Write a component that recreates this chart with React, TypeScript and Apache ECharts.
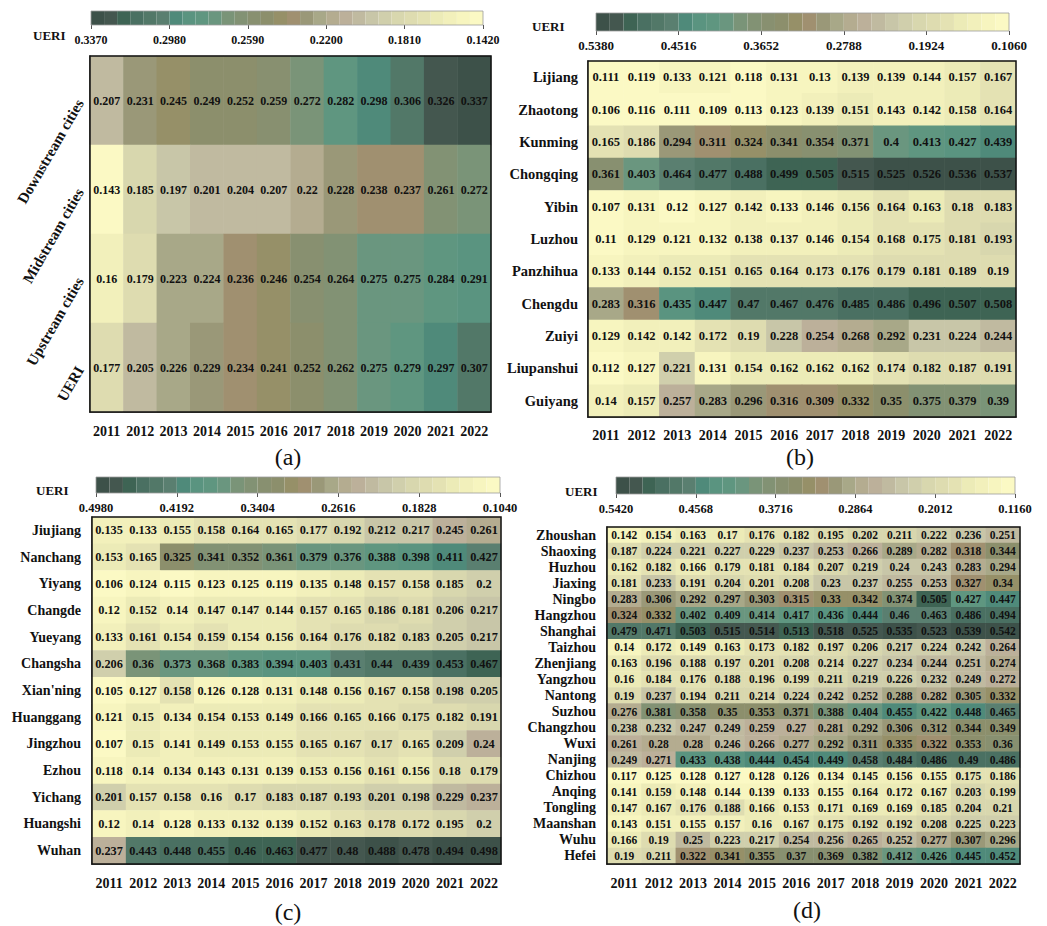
import React, { useEffect, useRef } from 'react';
import * as echarts from 'echarts';

const years = ['2011', '2012', '2013', '2014', '2015', '2016', '2017', '2018', '2019', '2020', '2021', '2022'];

// (a)
const regionsA = ['Downstream cities', 'Midstream cities', 'Upstream cities', 'UERI'];
const valuesA = [
  [0.207, 0.231, 0.245, 0.249, 0.252, 0.259, 0.272, 0.282, 0.298, 0.306, 0.326, 0.337],
  [0.143, 0.185, 0.197, 0.201, 0.204, 0.207, 0.22, 0.228, 0.238, 0.237, 0.261, 0.272],
  [0.16, 0.179, 0.223, 0.224, 0.236, 0.246, 0.254, 0.264, 0.275, 0.275, 0.284, 0.291],
  [0.177, 0.205, 0.226, 0.229, 0.234, 0.241, 0.252, 0.262, 0.275, 0.279, 0.297, 0.307],
];
const ticksA = [0.337, 0.298, 0.259, 0.22, 0.181, 0.142];

// (b)
const citiesB = ['Lijiang', 'Zhaotong', 'Kunming', 'Chongqing', 'Yibin', 'Luzhou', 'Panzhihua', 'Chengdu', 'Zuiyi', 'Liupanshui', 'Guiyang'];
const valuesB = [
  [0.111, 0.119, 0.133, 0.121, 0.118, 0.131, 0.13, 0.139, 0.139, 0.144, 0.157, 0.167],
  [0.106, 0.116, 0.111, 0.109, 0.113, 0.123, 0.139, 0.151, 0.143, 0.142, 0.158, 0.164],
  [0.165, 0.186, 0.294, 0.311, 0.324, 0.341, 0.354, 0.371, 0.4, 0.413, 0.427, 0.439],
  [0.361, 0.403, 0.464, 0.477, 0.488, 0.499, 0.505, 0.515, 0.525, 0.526, 0.536, 0.537],
  [0.107, 0.131, 0.12, 0.127, 0.142, 0.133, 0.146, 0.156, 0.164, 0.163, 0.18, 0.183],
  [0.11, 0.129, 0.121, 0.132, 0.138, 0.137, 0.146, 0.154, 0.168, 0.175, 0.181, 0.193],
  [0.133, 0.144, 0.152, 0.151, 0.165, 0.164, 0.173, 0.176, 0.179, 0.181, 0.189, 0.19],
  [0.283, 0.316, 0.435, 0.447, 0.47, 0.467, 0.476, 0.485, 0.486, 0.496, 0.507, 0.508],
  [0.129, 0.142, 0.142, 0.172, 0.19, 0.228, 0.254, 0.268, 0.292, 0.231, 0.224, 0.244],
  [0.112, 0.127, 0.221, 0.131, 0.154, 0.162, 0.162, 0.162, 0.174, 0.182, 0.187, 0.191],
  [0.14, 0.157, 0.257, 0.283, 0.296, 0.316, 0.309, 0.332, 0.35, 0.375, 0.379, 0.39],
];
const ticksB = [0.538, 0.4516, 0.3652, 0.2788, 0.1924, 0.106];

// (c)
const citiesC = ['Jiujiang', 'Nanchang', 'Yiyang', 'Changde', 'Yueyang', 'Changsha', "Xian'ning", 'Huanggang', 'Jingzhou', 'Ezhou', 'Yichang', 'Huangshi', 'Wuhan'];
const valuesC = [
  [0.135, 0.133, 0.155, 0.158, 0.164, 0.165, 0.177, 0.192, 0.212, 0.217, 0.245, 0.261],
  [0.153, 0.165, 0.325, 0.341, 0.352, 0.361, 0.379, 0.376, 0.388, 0.398, 0.411, 0.427],
  [0.106, 0.124, 0.115, 0.123, 0.125, 0.119, 0.135, 0.148, 0.157, 0.158, 0.185, 0.2],
  [0.12, 0.152, 0.14, 0.147, 0.147, 0.144, 0.157, 0.165, 0.186, 0.181, 0.206, 0.217],
  [0.133, 0.161, 0.154, 0.159, 0.154, 0.156, 0.164, 0.176, 0.182, 0.183, 0.205, 0.217],
  [0.206, 0.36, 0.373, 0.368, 0.383, 0.394, 0.403, 0.431, 0.44, 0.439, 0.453, 0.467],
  [0.105, 0.127, 0.158, 0.126, 0.128, 0.131, 0.148, 0.156, 0.167, 0.158, 0.198, 0.205],
  [0.121, 0.15, 0.134, 0.154, 0.153, 0.149, 0.166, 0.165, 0.166, 0.175, 0.182, 0.191],
  [0.107, 0.15, 0.141, 0.149, 0.153, 0.155, 0.165, 0.167, 0.17, 0.165, 0.209, 0.24],
  [0.118, 0.14, 0.134, 0.143, 0.131, 0.139, 0.153, 0.156, 0.161, 0.156, 0.18, 0.179],
  [0.201, 0.157, 0.158, 0.16, 0.17, 0.183, 0.187, 0.193, 0.201, 0.198, 0.229, 0.237],
  [0.12, 0.14, 0.128, 0.133, 0.132, 0.139, 0.152, 0.163, 0.178, 0.172, 0.195, 0.2],
  [0.237, 0.443, 0.448, 0.455, 0.46, 0.463, 0.477, 0.48, 0.488, 0.478, 0.494, 0.498],
];
const ticksC = [0.498, 0.4192, 0.3404, 0.2616, 0.1828, 0.104];

// (d)
const citiesD = ['Zhoushan', 'Shaoxing', 'Huzhou', 'Jiaxing', 'Ningbo', 'Hangzhou', 'Shanghai', 'Taizhou', 'Zhenjiang', 'Yangzhou', 'Nantong', 'Suzhou', 'Changzhou', 'Wuxi', 'Nanjing', 'Chizhou', 'Anqing', 'Tongling', 'Maanshan', 'Wuhu', 'Hefei'];
const valuesD = [
  [0.142, 0.154, 0.163, 0.17, 0.176, 0.182, 0.195, 0.202, 0.211, 0.222, 0.236, 0.251],
  [0.187, 0.224, 0.221, 0.227, 0.229, 0.237, 0.253, 0.266, 0.289, 0.282, 0.318, 0.344],
  [0.162, 0.182, 0.166, 0.179, 0.181, 0.184, 0.207, 0.219, 0.24, 0.243, 0.283, 0.294],
  [0.181, 0.233, 0.191, 0.204, 0.201, 0.208, 0.23, 0.237, 0.255, 0.253, 0.327, 0.34],
  [0.283, 0.306, 0.292, 0.297, 0.303, 0.315, 0.33, 0.342, 0.374, 0.505, 0.427, 0.447],
  [0.324, 0.332, 0.402, 0.409, 0.414, 0.417, 0.436, 0.444, 0.46, 0.463, 0.486, 0.494],
  [0.479, 0.471, 0.503, 0.515, 0.514, 0.513, 0.518, 0.525, 0.535, 0.523, 0.539, 0.542],
  [0.14, 0.172, 0.149, 0.163, 0.173, 0.182, 0.197, 0.206, 0.217, 0.224, 0.242, 0.264],
  [0.163, 0.196, 0.188, 0.197, 0.201, 0.208, 0.214, 0.227, 0.234, 0.244, 0.251, 0.274],
  [0.16, 0.184, 0.176, 0.188, 0.196, 0.199, 0.211, 0.219, 0.226, 0.232, 0.249, 0.272],
  [0.19, 0.237, 0.194, 0.211, 0.214, 0.224, 0.242, 0.252, 0.288, 0.282, 0.305, 0.332],
  [0.276, 0.381, 0.358, 0.35, 0.353, 0.371, 0.388, 0.404, 0.455, 0.422, 0.448, 0.465],
  [0.238, 0.232, 0.247, 0.249, 0.259, 0.27, 0.281, 0.292, 0.306, 0.312, 0.344, 0.349],
  [0.261, 0.28, 0.28, 0.246, 0.266, 0.277, 0.292, 0.311, 0.335, 0.322, 0.353, 0.36],
  [0.249, 0.271, 0.433, 0.438, 0.444, 0.454, 0.449, 0.458, 0.484, 0.486, 0.49, 0.486],
  [0.117, 0.125, 0.128, 0.127, 0.128, 0.126, 0.134, 0.145, 0.156, 0.155, 0.175, 0.186],
  [0.141, 0.159, 0.148, 0.144, 0.139, 0.133, 0.155, 0.164, 0.172, 0.167, 0.203, 0.199],
  [0.147, 0.167, 0.176, 0.188, 0.166, 0.153, 0.171, 0.169, 0.169, 0.185, 0.204, 0.21],
  [0.143, 0.151, 0.155, 0.157, 0.16, 0.167, 0.175, 0.192, 0.192, 0.208, 0.225, 0.223],
  [0.166, 0.19, 0.25, 0.223, 0.217, 0.254, 0.256, 0.265, 0.252, 0.277, 0.307, 0.296],
  [0.19, 0.211, 0.322, 0.341, 0.355, 0.37, 0.369, 0.382, 0.412, 0.426, 0.445, 0.452],
];
const ticksD = [0.542, 0.4568, 0.3716, 0.2864, 0.2012, 0.116];

// colour ramp, low (light) -> high (dark), one colour per colour-bar step
const PALETTE = [
  '#fbf9c4', '#f7f5bf', '#f2f0bb', '#ecebb7', '#e4e2b3', '#dedcb0', '#d8d7ae', '#d0cfac', '#c8c6a8', '#c0baa0',
  '#bcb09a', '#b4ac90', '#a8a888', '#9a9878', '#a09070', '#969068', '#8c8f6c', '#889070', '#829274', '#7a9478',
  '#6a967f', '#5f9680', '#5a9480', '#4f8a7a', '#5a7f70', '#527868', '#4a7062', '#3e6454', '#44574f', '#3d5149',
];

const FONT = '"Liberation Serif", "Times New Roman", serif';
const INK = '#111';

type Panel = {
  rows: string[];
  values: number[][];
  ticks: number[];
  grid: { left: number; top: number; width: number; height: number };
  bar: { left: number; top: number; width: number; height: number };
  cellFont: number;
  yFont: number;
  yRotate: number;
  yMargin: number;
  xMargin: number;
  barFont: number;
  barMargin: number;
  ueri: { x: number; y: number };
  tag: { text: string; x: number; y: number };
};

const panels: Panel[] = [
  {
    rows: regionsA, values: valuesA, ticks: ticksA,
    grid: { left: 90, top: 56, width: 401, height: 356 },
    bar: { left: 91, top: 11, width: 392, height: 14 },
    cellFont: 12, yFont: 15, yRotate: 60, yMargin: 10, xMargin: 12, barFont: 12, barMargin: 9,
    ueri: { x: 33, y: 37 }, tag: { text: '(a)', x: 288, y: 457 },
  },
  {
    rows: citiesB, values: valuesB, ticks: ticksB,
    grid: { left: 588, top: 61, width: 428, height: 356 },
    bar: { left: 596, top: 13, width: 413, height: 18 },
    cellFont: 12.5, yFont: 14.5, yRotate: 0, yMargin: 10, xMargin: 11, barFont: 13, barMargin: 8,
    ueri: { x: 532, y: 28 }, tag: { text: '(b)', x: 800, y: 457 },
  },
  {
    rows: citiesC, values: valuesC, ticks: ticksC,
    grid: { left: 92, top: 517, width: 409, height: 347 },
    bar: { left: 96, top: 477, width: 404, height: 16 },
    cellFont: 12.3, yFont: 14, yRotate: 0, yMargin: 11, xMargin: 12, barFont: 12.5, barMargin: 8,
    ueri: { x: 36, y: 492 }, tag: { text: '(c)', x: 288, y: 912 },
  },
  {
    rows: citiesD, values: valuesD, ticks: ticksD,
    grid: { left: 607, top: 527, width: 413, height: 337 },
    bar: { left: 616, top: 477, width: 399, height: 17 },
    cellFont: 11.5, yFont: 14, yRotate: 0, yMargin: 11, xMargin: 12, barFont: 12.5, barMargin: 8,
    ueri: { x: 565, y: 493 }, tag: { text: '(d)', x: 807, y: 910 },
  },
];

function buildOption() {
  const grid: any[] = [];
  const xAxis: any[] = [];
  const yAxis: any[] = [];
  const series: any[] = [];
  const visualMap: any[] = [];
  const graphic: any[] = [];

  panels.forEach((p, i) => {
    const min = Math.min(...p.ticks);
    const max = Math.max(...p.ticks);
    grid.push({ ...p.grid, show: true, z: 5, borderColor: INK, borderWidth: 1.5, backgroundColor: 'transparent' });
    grid.push({ ...p.bar, show: true, z: 5, borderColor: '#9c9c9c', borderWidth: 0.8, backgroundColor: 'transparent' });

    xAxis.push({
      type: 'category', gridIndex: 2 * i, data: years,
      axisLine: { lineStyle: { color: INK, width: 1.5 } },
      axisTick: { alignWithLabel: true, length: 5, lineStyle: { color: INK, width: 1.3 } },
      axisLabel: { fontFamily: FONT, fontWeight: 'bold', fontSize: 14, color: INK, margin: p.xMargin, interval: 0 },
      splitLine: { show: false },
    });
    yAxis.push({
      type: 'category', gridIndex: 2 * i, data: p.rows, inverse: true,
      axisLine: { lineStyle: { color: INK, width: 1.5 } },
      axisTick: { alignWithLabel: true, length: 5, lineStyle: { color: INK, width: 1.3 } },
      axisLabel: { fontFamily: FONT, fontWeight: 'bold', fontSize: p.yFont, color: INK, margin: p.yMargin, rotate: p.yRotate, interval: 0 },
      splitLine: { show: false },
    });
    xAxis.push({
      type: 'value', gridIndex: 2 * i + 1, min, max, inverse: true,
      axisLine: { show: false }, splitLine: { show: false },
      axisTick: { show: true, customValues: p.ticks, length: 4, lineStyle: { color: '#555', width: 1 } },
      axisLabel: {
        customValues: p.ticks, fontFamily: FONT, fontWeight: 'bold', fontSize: p.barFont, color: INK, margin: p.barMargin,
        formatter: (v: number) => v.toFixed(4), showMinLabel: true, showMaxLabel: true, hideOverlap: false,
      },
    });
    yAxis.push({ type: 'value', gridIndex: 2 * i + 1, show: false, min: 0, max: 1 });

    const data: any[] = [];
    p.values.forEach((row, r) => row.forEach((v, c) => data.push([c, r, v])));
    series.push({
      type: 'heatmap', xAxisIndex: 2 * i, yAxisIndex: 2 * i, data,
      label: {
        show: true, fontFamily: FONT, fontWeight: 'bold', fontSize: p.cellFont, color: INK,
        formatter: (q: any) => String(q.value[2]),
      },
      emphasis: { disabled: true },
      progressive: 0,
    });

    visualMap.push({
      type: 'piecewise', seriesIndex: i, min, max, splitNumber: 30,
      orient: 'horizontal', inverse: true, left: p.bar.left, top: p.bar.top,
      itemWidth: p.bar.width / 30, itemHeight: p.bar.height, itemGap: 0, itemSymbol: 'rect',
      showLabel: false, padding: 0, selectedMode: false, hoverLink: false,
      inRange: { color: PALETTE },
    });

    graphic.push({
      type: 'text', left: p.ueri.x, top: p.ueri.y - 8,
      style: { text: 'UERI', font: `bold 13px ${FONT}`, fill: INK },
    });
    graphic.push({
      type: 'text', x: p.tag.x, y: p.tag.y,
      style: { text: p.tag.text, font: `24px ${FONT}`, fill: INK, align: 'center', verticalAlign: 'middle' },
    });
  });

  return {
    animation: false,
    backgroundColor: '#ffffff',
    grid, xAxis, yAxis, series, visualMap, graphic,
  };
}

export default function App() {
  const ref = useRef<HTMLDivElement>(null);
  useEffect(() => {
    document.body.style.margin = '0';
    const chart = echarts.init(ref.current!, null, { renderer: 'svg' });
    chart.setOption(buildOption() as any);
    return () => chart.dispose();
  }, []);
  return <div ref={ref} style={{ position: 'fixed', left: 0, top: 0, width: 1047, height: 926, background: '#fff' }} />;
}
